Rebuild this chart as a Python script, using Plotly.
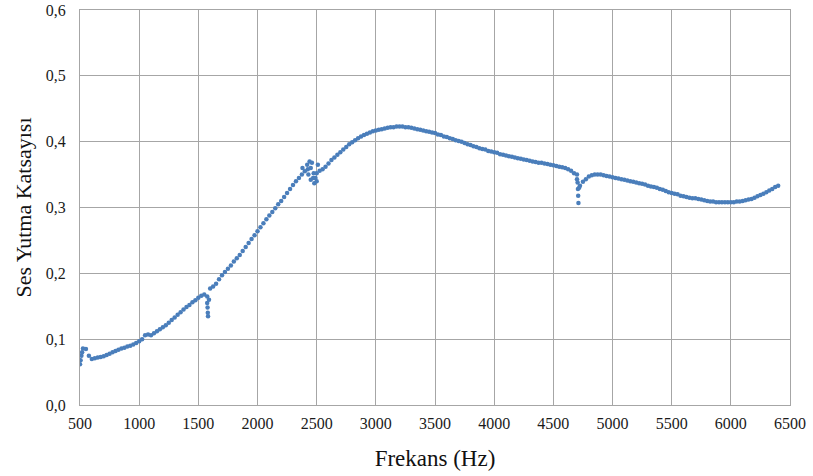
import plotly.graph_objects as go

# Frequency grid of the main trace (Hz)
freq = list(range(500, 6401, 25))

# Sound absorption coefficient
absorption = [
    # 500 - 1000
    0.062, 0.086, 0.085, 0.075, 0.070, 0.071, 0.072, 0.073, 0.074, 0.076,
    0.078, 0.080, 0.082, 0.084, 0.086, 0.087, 0.089, 0.090, 0.092, 0.094, 0.097,
    # 1025 - 2000
    0.100, 0.106, 0.107, 0.106, 0.109, 0.112, 0.115, 0.118, 0.121, 0.125,
    0.129, 0.133, 0.137, 0.141, 0.145, 0.149, 0.152, 0.156, 0.159, 0.163,
    0.166, 0.168, 0.165, 0.177, 0.180, 0.184, 0.191, 0.197, 0.202, 0.207,
    0.212, 0.218, 0.223, 0.228, 0.234, 0.240, 0.246, 0.252, 0.258, 0.264,
    # 2025 - 3000
    0.270, 0.276, 0.282, 0.288, 0.293, 0.299, 0.305, 0.310, 0.316, 0.322,
    0.328, 0.334, 0.340, 0.345, 0.350, 0.355, 0.358, 0.360, 0.352, 0.352,
    0.356, 0.358, 0.362, 0.367, 0.372, 0.376, 0.380, 0.384, 0.388, 0.392,
    0.396, 0.399, 0.402, 0.405, 0.408, 0.410, 0.412, 0.414, 0.416, 0.417,
    # 3025 - 4000
    0.418, 0.419, 0.420, 0.421, 0.422, 0.422, 0.423, 0.423, 0.423, 0.422,
    0.422, 0.421, 0.420, 0.419, 0.418, 0.417, 0.416, 0.415, 0.414, 0.413,
    0.411, 0.410, 0.408, 0.407, 0.405, 0.404, 0.402, 0.401, 0.400, 0.398,
    0.396, 0.395, 0.393, 0.392, 0.390, 0.389, 0.388, 0.386, 0.385, 0.384,
    # 4025 - 5000
    0.383, 0.381, 0.380, 0.379, 0.378, 0.377, 0.376, 0.375, 0.374, 0.373,
    0.372, 0.371, 0.370, 0.369, 0.368, 0.368, 0.367, 0.366, 0.365, 0.364,
    0.363, 0.362, 0.361, 0.360, 0.358, 0.356, 0.352, 0.343, 0.333, 0.339,
    0.343, 0.347, 0.349, 0.350, 0.350, 0.350, 0.349, 0.348, 0.347, 0.346,
    # 5025 - 6400
    0.345, 0.344, 0.343, 0.342, 0.341, 0.340, 0.339, 0.338, 0.337, 0.336,
    0.335, 0.333, 0.332, 0.331, 0.330, 0.328, 0.327, 0.325, 0.323, 0.322,
    0.321, 0.320, 0.318, 0.317, 0.316, 0.315, 0.314, 0.314, 0.313, 0.312,
    0.311, 0.310, 0.309, 0.309, 0.308, 0.308, 0.308, 0.308, 0.308, 0.308,
    0.308, 0.309, 0.309, 0.310, 0.311, 0.312, 0.313, 0.315, 0.317, 0.319,
    0.321, 0.323, 0.326, 0.328, 0.331, 0.333,
]
assert len(freq) == len(absorption)

# Scattered measurement points around resonance dips
extra_freq = [505, 512, 518, 1575, 1578, 1580, 1582, 1590,
              2380, 2420, 2430, 2440, 2450, 2460, 2470, 2480, 2490, 2500, 2510,
              4700, 4705, 4708, 4710, 4712, 4718]
extra_abs = [0.068, 0.075, 0.080, 0.155, 0.148, 0.140, 0.135, 0.160,
             0.360, 0.365, 0.350, 0.370, 0.342, 0.368, 0.345, 0.337, 0.345, 0.340, 0.365,
             0.350, 0.338, 0.328, 0.318, 0.307, 0.330]

x_ticks = [500, 1000, 1500, 2000, 2500, 3000, 3500, 4000, 4500, 5000, 5500, 6000, 6500]
y_ticks = [0.0, 0.1, 0.2, 0.3, 0.4, 0.5, 0.6]

blue = "#4A7EBB"
fig = go.Figure()
fig.add_trace(go.Scatter(x=freq + extra_freq, y=absorption + extra_abs, mode="markers",
                         marker=dict(color=blue, size=4.5, line=dict(width=0)),
                         showlegend=False, hoverinfo="x+y"))

grid = "#A6A6A6"
serif = "Liberation Serif, Times New Roman, serif"
fig.update_layout(
    width=813, height=476,
    margin=dict(l=80, r=23, t=10, b=71),
    paper_bgcolor="white", plot_bgcolor="white",
    separators=",.",
    font=dict(family=serif, size=16, color="#1a1a1a"),
    xaxis=dict(range=[500, 6500], tickvals=x_ticks, tickformat="d", automargin=False,
               showgrid=True, gridcolor=grid, gridwidth=1,
               showline=True, linecolor=grid, linewidth=1, mirror=True,
               zeroline=False, ticks="", tickfont=dict(size=16), ticklabelstandoff=4,
               title=dict(text="Frekans (Hz)", font=dict(size=23, color="#111"), standoff=18)),
    yaxis=dict(range=[0, 0.6], tickvals=y_ticks, tickformat=".1f", automargin=False,
               showgrid=True, gridcolor=grid, gridwidth=1,
               showline=True, linecolor=grid, linewidth=1, mirror=True,
               zeroline=False, ticks="", tickfont=dict(size=16), ticklabelstandoff=10,
               title=dict(text="Ses Yutma Katsayısı", font=dict(size=22, color="#111"), standoff=8)),
)

fig.write_html("out.html", config={"displayModeBar": False},
               post_script="document.body.style.margin='0';document.body.style.overflow='hidden';")
